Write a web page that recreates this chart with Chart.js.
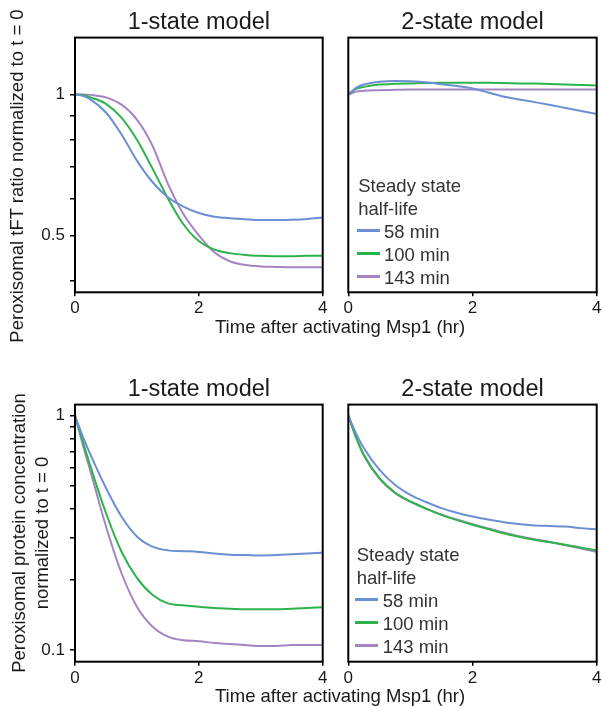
<!DOCTYPE html>
<html><head><meta charset="utf-8">
<script src="https://cdn.jsdelivr.net/npm/chart.js@4.4.1/dist/chart.umd.min.js"></script>
<style>
html,body{margin:0;padding:0;background:#fff;}
#wrap{position:relative;width:602px;height:706px;overflow:hidden;font-family:'Liberation Sans',Arial,sans-serif;color:#1a1a1a;}
canvas{position:absolute;}
.t{position:absolute;white-space:nowrap;font-size:18.5px;line-height:20px;}
.rot{transform:rotate(-90deg);transform-origin:50% 50%;text-align:center;}
.leg{position:absolute;font-size:18.5px;line-height:23px;color:#333;white-space:nowrap;}
.row{position:relative;height:23px;}
.sw{position:absolute;left:0;top:9px;width:23px;height:3px;}
</style></head><body>
<div id="wrap">
  <canvas id="tl" width="336" height="320" style="left:0;top:0"></canvas>
  <canvas id="tr" width="266" height="320" style="left:336px;top:0"></canvas>
  <canvas id="bl" width="336" height="330" style="left:0;top:360px"></canvas>
  <canvas id="br" width="266" height="330" style="left:336px;top:360px"></canvas>
  <div class="t rot" style="left:7px;top:166px;width:340px;margin-left:-160px">Peroxisomal tFT ratio normalized to t = 0</div>
  <div class="t rot" style="left:18.5px;top:523px;width:300px;margin-left:-150px">Peroxisomal protein concentration</div>
  <div class="t rot" style="left:41.8px;top:523px;width:300px;margin-left:-150px">normalized to t = 0</div>
  <div class="t" style="left:215px;top:316.8px">Time after activating Msp1 (hr)</div>
  <div class="t" style="left:215px;top:686px">Time after activating Msp1 (hr)</div>
  <div class="leg" id="legTop" style="left:356.7px;top:173.5px"></div>
  <div class="leg" id="legBot" style="left:355px;top:542.5px"></div>
</div>
<script>
// ---- data ----
const hours = [0,0.125,0.25,0.5,0.75,1,1.25,1.5,1.75,2,2.25,2.5,2.75,3,3.25,3.5,3.75,4];
const xTicks = [0,2,4];
const seriesLabels = ['58 min','100 min','143 min'];
const seriesColors = ['#6a8fd3','#2db34a','#a584c4'];
const legendTitle = ['Steady state','half-life'];
const panelTitles = ['1-state model','2-state model'];

// tFT ratio, 1-state model
const ratio1State58  = [1,0.993,0.976,0.915,0.822,0.722,0.650,0.603,0.576,0.558,0.548,0.544,0.541,0.539,0.539,0.540,0.542,0.546];
const ratio1State100 = [1,0.997,0.986,0.955,0.892,0.800,0.695,0.600,0.528,0.486,0.466,0.458,0.454,0.452,0.451,0.451,0.452,0.452];
const ratio1State143 = [1,1.000,0.998,0.986,0.951,0.884,0.778,0.645,0.555,0.500,0.460,0.440,0.432,0.429,0.428,0.427,0.427,0.427];
// tFT ratio, 2-state model
const ratio2State58  = [1,1.033,1.050,1.064,1.069,1.067,1.062,1.052,1.042,1.030,1.010,0.990,0.976,0.963,0.950,0.936,0.922,0.908];
const ratio2State100 = [1,1.028,1.038,1.050,1.054,1.056,1.058,1.059,1.059,1.059,1.059,1.058,1.056,1.055,1.053,1.050,1.048,1.045];
const ratio2State143 = [1,1.014,1.018,1.021,1.023,1.025,1.025,1.025,1.025,1.025,1.025,1.025,1.025,1.025,1.025,1.025,1.025,1.025];
// protein concentration, 1-state model
const conc1State58  = [1,0.816,0.681,0.491,0.371,0.305,0.276,0.266,0.264,0.262,0.258,0.255,0.254,0.253,0.254,0.256,0.258,0.260];
const conc1State100 = [1,0.776,0.607,0.384,0.263,0.203,0.172,0.158,0.155,0.153,0.151,0.150,0.149,0.149,0.149,0.150,0.151,0.152];
const conc1State143 = [1,0.752,0.578,0.337,0.213,0.153,0.126,0.114,0.110,0.109,0.107,0.106,0.105,0.104,0.104,0.105,0.105,0.105];
// protein concentration, 2-state model
const conc2State58  = [1,0.840,0.727,0.588,0.507,0.459,0.428,0.403,0.385,0.371,0.360,0.351,0.345,0.340,0.338,0.336,0.331,0.327];
const conc2State100 = [1,0.810,0.681,0.542,0.470,0.430,0.401,0.377,0.358,0.342,0.328,0.315,0.304,0.295,0.288,0.281,0.273,0.266];
const conc2State143 = [1,0.805,0.676,0.538,0.468,0.429,0.401,0.378,0.360,0.344,0.330,0.317,0.306,0.297,0.289,0.280,0.271,0.262];

// axis ticks
const ratioTicks = [1,0.9,0.8,0.7,0.6,0.5,0.4];
const ratioLabeled = [1,0.5];
const ratioRange = [0.3777,1.323];
const concTicks = [1,0.9,0.8,0.7,0.6,0.5,0.4,0.3,0.2,0.1];
const concLabeled = [1,0.1];
const concRange = [0.0891,1.114];

// ---- drawing ----
const FONT = "'Liberation Sans', Arial, sans-serif";
Chart.defaults.font.family = FONT;
Chart.defaults.color = '#1a1a1a';

const framePlugin = {
  id: 'frame',
  afterDraw(chart) {
    const a = chart.chartArea, c = chart.ctx;
    c.save();
    c.strokeStyle = '#000';
    c.lineWidth = 2;
    c.strokeRect(a.left, a.top, a.right - a.left, a.bottom - a.top);
    c.restore();
  }
};

function makePanel(id, cfg) {
  const datasets = cfg.series.map((arr, i) => ({
    label: seriesLabels[i],
    data: hours.map((h, j) => ({x: h, y: arr[j]})),
    borderColor: seriesColors[i],
    borderWidth: 2,
    pointRadius: 0,
    fill: false,
    cubicInterpolationMode: 'monotone'
  }));
  new Chart(document.getElementById(id), {
    type: 'line',
    data: {datasets},
    plugins: [framePlugin],
    options: {
      responsive: false,
      animation: false,
      devicePixelRatio: 1,
      layout: {padding: cfg.pad},
      plugins: {
        legend: {display: false},
        tooltip: {enabled: false},
        title: {
          display: true, text: cfg.title, fullSize: false,
          font: {size: 23.5, weight: 'normal', family: FONT},
          color: '#1a1a1a', padding: {top: 0, bottom: 1}
        }
      },
      scales: {
        x: {
          type: 'linear', min: 0, max: 4,
          afterBuildTicks(s) { s.ticks = xTicks.map(v => ({value: v})); },
          afterFit(s) { s.height = cfg.xHeight; s.paddingLeft = 0; s.paddingRight = 0; },
          ticks: {font: {size: 17}, padding: 2, maxRotation: 0, color: '#1a1a1a', callback: v => String(v)},
          grid: {display: true, drawOnChartArea: false, drawTicks: true, tickLength: 4, color: '#000', lineWidth: 1.5},
          border: {display: false}
        },
        y: {
          type: 'logarithmic', min: cfg.yRange[0], max: cfg.yRange[1],
          afterBuildTicks(s) { s.ticks = cfg.showY ? cfg.yTicks.map(v => ({value: v})) : []; },
          afterFit(s) { s.width = cfg.yWidth; s.paddingTop = 0; s.paddingBottom = 0; },
          ticks: {
            display: cfg.showY, font: {size: 17}, padding: 5, color: '#1a1a1a', autoSkip: false,
            callback: v => cfg.yLabeled.includes(v) ? String(v) : ''
          },
          grid: {display: cfg.showY, drawOnChartArea: false, drawTicks: true, tickLength: 5, color: '#000', lineWidth: 1.5},
          border: {display: false}
        }
      }
    }
  });
}

makePanel('tl', {title: panelTitles[0], series: [ratio1State58, ratio1State100, ratio1State143],
  yTicks: ratioTicks, yLabeled: ratioLabeled, yRange: ratioRange, showY: true, yWidth: 75,
  xHeight: 27.7, pad: {top: 8.4, left: 0, right: 13.3, bottom: 0}});
makePanel('tr', {title: panelTitles[1], series: [ratio2State58, ratio2State100, ratio2State143],
  yTicks: ratioTicks, yLabeled: ratioLabeled, yRange: ratioRange, showY: false, yWidth: 12.3,
  xHeight: 27.7, pad: {top: 8.4, left: 0, right: 5.3, bottom: 0}});
makePanel('bl', {title: panelTitles[0], series: [conc1State58, conc1State100, conc1State143],
  yTicks: concTicks, yLabeled: concLabeled, yRange: concRange, showY: true, yWidth: 75,
  xHeight: 28.3, pad: {top: 15.4, left: 0, right: 13.3, bottom: 0}});
makePanel('br', {title: panelTitles[1], series: [conc2State58, conc2State100, conc2State143],
  yTicks: concTicks, yLabeled: concLabeled, yRange: concRange, showY: false, yWidth: 12.3,
  xHeight: 28.3, pad: {top: 15.4, left: 0, right: 5.3, bottom: 0}});

function buildLegend(id, titlePad, itemPad) {
  const el = document.getElementById(id);
  legendTitle.forEach(t => {
    const r = document.createElement('div');
    r.className = 'row'; r.style.paddingLeft = titlePad + 'px'; r.textContent = t;
    el.appendChild(r);
  });
  seriesLabels.forEach((lab, i) => {
    const r = document.createElement('div');
    r.className = 'row'; r.style.paddingLeft = itemPad + 'px';
    const s = document.createElement('span');
    s.className = 'sw'; s.style.background = seriesColors[i];
    r.appendChild(s);
    r.appendChild(document.createTextNode(lab));
    el.appendChild(r);
  });
}
buildLegend('legTop', 1.6, 27.3);
buildLegend('legBot', 1.7, 27.7);
</script>
</body></html>
